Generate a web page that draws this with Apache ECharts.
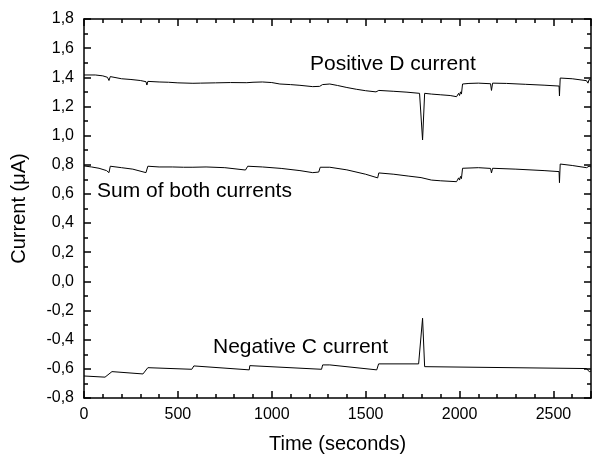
<!DOCTYPE html>
<html lang="en">
<head>
    <meta charset="UTF-8">
    <title>Current vs time</title>
    <style>
        body { margin: 0; }
        #chart { width: 592px; height: 460px; }
    </style>
</head>
<body>
<div id="chart"></div>
<script src="https://cdn.jsdelivr.net/npm/echarts@6/dist/echarts.min.js"></script>
<script>
    // Positive D current
    var posX = [0, 60, 100, 125, 133, 140, 150, 200, 250, 300, 330, 335, 340, 400, 450, 500, 580, 620, 700, 780, 867, 900, 950, 1000,
        1043, 1100, 1150, 1218, 1255, 1270, 1309, 1350, 1400, 1450, 1500, 1555, 1564, 1570, 1650, 1720, 1787, 1803, 1814, 1850,
        1900, 1950, 1984, 1995, 2000, 2005, 2010, 2016, 2050, 2100, 2165, 2170, 2176, 2250, 2350, 2450, 2530, 2532, 2536, 2600,
        2676, 2684, 2690, 2700];
    var posY = [1.416, 1.416, 1.41, 1.40, 1.378, 1.405, 1.40, 1.39, 1.385, 1.378, 1.37, 1.347, 1.372, 1.368, 1.366, 1.362, 1.359, 1.36, 1.362, 1.364, 1.363, 1.366, 1.368, 1.364,
        1.354, 1.35, 1.345, 1.336, 1.338, 1.35, 1.354, 1.344, 1.33, 1.318, 1.308, 1.300, 1.292, 1.31, 1.304, 1.298, 1.29, 0.97, 1.29, 1.285,
        1.28, 1.275, 1.267, 1.29, 1.275, 1.30, 1.285, 1.354, 1.358, 1.36, 1.356, 1.31, 1.36, 1.358, 1.352, 1.346, 1.34, 1.272, 1.395, 1.39,
        1.377, 1.36, 1.385, 1.38];

    // Sum of both currents
    var sumX = [0, 40, 80, 120, 133, 140, 200, 260, 330, 335, 340, 400, 470, 530, 580, 585, 650, 750, 860, 867, 872, 950, 1050, 1150,
        1218, 1250, 1258, 1309, 1400, 1500, 1564, 1570, 1650, 1730, 1795, 1805, 1850, 1900, 1984, 1995, 2000, 2005, 2010, 2016,
        2100, 2165, 2170, 2176, 2300, 2450, 2530, 2532, 2536, 2600, 2676, 2684, 2690, 2700];
    var sumY = [0.792, 0.785, 0.776, 0.76, 0.746, 0.79, 0.78, 0.77, 0.746, 0.744, 0.79, 0.785, 0.785, 0.783, 0.783, 0.79, 0.785, 0.78, 0.764, 0.764, 0.79, 0.785, 0.775, 0.76,
        0.746, 0.75, 0.783, 0.783, 0.765, 0.735, 0.71, 0.744, 0.735, 0.722, 0.712, 0.70, 0.695, 0.69, 0.684, 0.71, 0.695, 0.72, 0.705, 0.776,
        0.78, 0.775, 0.744, 0.776, 0.77, 0.76, 0.753, 0.677, 0.805, 0.795, 0.78, 0.77, 0.79, 0.785];

    // Negative C current
    var negX = [0, 112, 149, 314, 340, 574, 585, 880, 883, 1265, 1271, 1309, 1559, 1569, 1782, 1803, 1814, 2676, 2691, 2700];
    var negY = [-0.649, -0.657, -0.619, -0.635, -0.592, -0.603, -0.58, -0.607, -0.578, -0.603, -0.573, -0.573, -0.607, -0.566, -0.566, -0.253, -0.585, -0.598, -0.62, -0.615];

    var seriesLabels = ['Positive D current', 'Sum of both currents', 'Negative C current'];

    function pairs(xs, ys) {
        return xs.map(function (x, i) { return [x, ys[i]]; });
    }

    var font = "'Liberation Sans', Arial, sans-serif";
    var black = '#000';

    // frame axes; each sits "on zero" of a hidden helper axis whose zero is at the grid edge
    function xAx(pos, zeroIdx) {
        var bottom = pos === 'bottom';
        return {
            type: 'value', position: pos, min: 0, max: 2700, interval: 500,
            axisLine: { show: true, onZero: true, onZeroAxisIndex: zeroIdx, lineStyle: { color: black, width: 1.5 } },
            axisTick: { show: true, inside: true, interval: 0, length: 7, lineStyle: { color: black, width: 1.5 } },
            minorTick: { show: true, splitNumber: 5, length: 4, lineStyle: { color: black, width: 1.5 } },
            axisLabel: {
                show: bottom, showMaxLabel: false, margin: 9,
                fontFamily: font, fontSize: 16, color: black,
                formatter: function (v) { return String(v); }
            },
            splitLine: { show: false },
            name: bottom ? 'Time (seconds)' : '',
            nameLocation: 'middle', nameGap: 36,
            nameTextStyle: { fontFamily: font, fontSize: 20, color: black }
        };
    }

    function yAx(pos, zeroIdx) {
        var left = pos === 'left';
        return {
            type: 'value', position: pos, min: -0.8, max: 1.8, interval: 0.2,
            axisLine: { show: true, onZero: true, onZeroAxisIndex: zeroIdx, lineStyle: { color: black, width: 1.5 } },
            axisTick: { show: true, inside: true, interval: 0, length: 7, lineStyle: { color: black, width: 1.5 } },
            minorTick: { show: true, splitNumber: 2, length: 4, lineStyle: { color: black, width: 1.5 } },
            axisLabel: {
                show: left, margin: 10,
                fontFamily: font, fontSize: 16, color: black,
                formatter: function (v) { return v.toFixed(1).replace('.', ','); }
            },
            splitLine: { show: false },
            name: left ? 'Current (\u03bcA)' : '',
            nameLocation: 'middle', nameGap: 55,
            nameTextStyle: { fontFamily: font, fontSize: 20, color: black }
        };
    }

    function helper(min, max) {
        return { type: 'value', min: min, max: max, show: false };
    }

    var mChart = echarts.init(document.getElementById('chart'));
    var option = {
        animation: false,
        backgroundColor: '#fff',
        grid: { left: 84, right: 1, top: 19, bottom: 62 },
        xAxis: [xAx('bottom', 2), xAx('top', 3), helper(-1, 0)],
        yAxis: [yAx('left', 0), yAx('right', 2), helper(0, 1), helper(-1, 0)],
        series: [
            { name: seriesLabels[0], data: pairs(posX, posY) },
            { name: seriesLabels[1], data: pairs(sumX, sumY) },
            { name: seriesLabels[2], data: pairs(negX, negY) }
        ].map(function (s) {
            return {
                type: 'line', name: s.name, data: s.data, showSymbol: false,
                xAxisIndex: 0, yAxisIndex: 0,
                lineStyle: { color: black, width: 1 }
            };
        }),
        graphic: [
            { type: 'text', x: 310, y: 64, style: { text: seriesLabels[0], font: '21px ' + font, fill: black, verticalAlign: 'middle' } },
            { type: 'text', x: 97, y: 191, style: { text: seriesLabels[1], font: '21px ' + font, fill: black, verticalAlign: 'middle' } },
            { type: 'text', x: 213, y: 347, style: { text: seriesLabels[2], font: '21px ' + font, fill: black, verticalAlign: 'middle' } }
        ]
    };
    mChart.setOption(option);
</script>
</body>
</html>
